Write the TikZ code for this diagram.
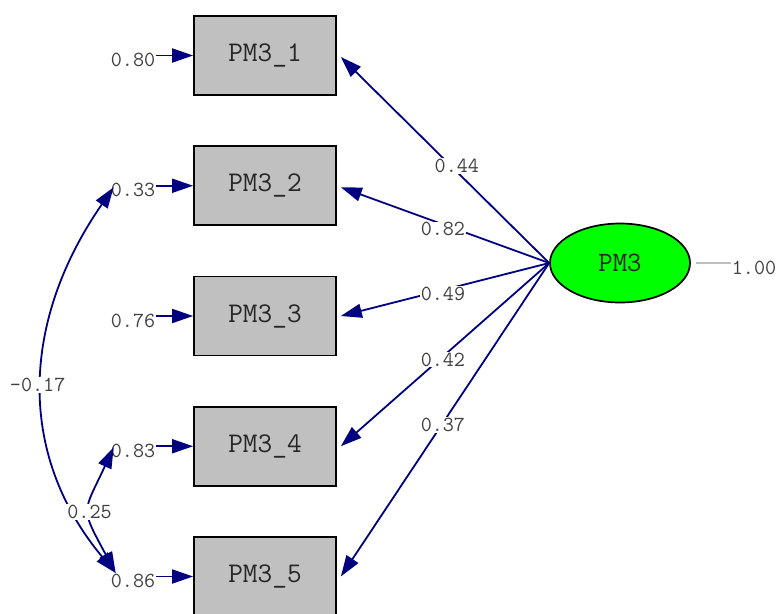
\documentclass[tikz,border=0pt]{standalone}
\usepackage{fontspec}
\usetikzlibrary{arrows.meta,shapes.geometric}
\definecolor{pathblue}{RGB}{0,0,128}
\definecolor{boxgray}{RGB}{192,192,192}
\definecolor{latentgreen}{RGB}{0,255,0}
\tikzset{
observed/.style={draw=black,line width=1.7pt,fill=boxgray,minimum width=142pt,minimum height=79pt,inner sep=0pt,text=black!85,font=\ttfamily\fontsize{28.5}{29}\selectfont},
latent/.style={ellipse,draw=black,line width=1.7pt,fill=latentgreen,minimum width=140pt,minimum height=79pt,inner sep=0pt,text=black!85,font=\ttfamily\fontsize{28}{29}\selectfont},
est/.style={inner sep=1pt,text=black!75,font=\ttfamily\fontsize{21.5}{22}\selectfont},
onpath/.style={est,fill=white},
path/.style={pathblue,line width=1.8pt,-{Triangle[length=21pt,width=14pt]}},
covpath/.style={pathblue,line width=1.8pt,{Triangle[length=21pt,width=14pt]}-{Triangle[length=21pt,width=14pt]}}
}
\providecommand{\Indicator}[4]{
\node[observed] (b#1) at (265,#2) {#3};
\node[est] (e#1) at (133,#2+4.5) {#4};
\draw[path] (e#1.east |- b#1.west) -- (b#1.west);
}

\begin{document}
\begin{tikzpicture}[x=1pt,y=-1pt]
\useasboundingbox (0,0) rectangle (778,613);
\Indicator{1}{55.5}{PM3\_1}{0.80}
\Indicator{2}{185.75}{PM3\_2}{0.33}
\Indicator{3}{316}{PM3\_3}{0.76}
\Indicator{4}{446.25}{PM3\_4}{0.83}
\Indicator{5}{576.5}{PM3\_5}{0.86}
\node[latent] (pm3) at (620,263) {PM3};
\node[est] (v) at (754,268) {1.00};
\draw[black!25,line width=1.2pt] ([xshift=5pt]pm3.east) -- (v.west |- pm3.east);
% loadings
\draw[path] (pm3.west) -- node[onpath,pos=0.443,yshift=6pt] (l1) {0.44} ([xshift=4pt,yshift=-1.5pt]b1.east);
\draw[path] (pm3.west) -- node[onpath,pos=0.51,yshift=-5pt] (l2) {0.82} ([xshift=4pt,yshift=-1.5pt]b2.east);
\draw[path] (pm3.west) -- node[onpath,pos=0.51,yshift=-4pt] (l3) {0.49} ([xshift=4pt]b3.east);
\draw[path] (pm3.west) -- node[onpath,pos=0.51,yshift=-3pt] (l4) {0.42} ([xshift=4pt]b4.east);
\draw[path] (pm3.west) -- node[onpath,pos=0.51,yshift=-2pt] (l5) {0.37} ([xshift=4pt]b5.east);
% covariances
\coordinate (c2) at ([xshift=4pt,yshift=-1.5pt]e2.west |- b2.west);
\coordinate (c4) at ([xshift=4pt,yshift=-1pt]e4.west |- b4.west);
\coordinate (c5) at ([xshift=6pt,yshift=3.5pt]e5.west |- b5.west);
\draw[covpath] (c2) .. controls +(-92,133) and +(-100,-120) .. node[onpath,xshift=-5pt] (k25) {-0.17} (c5);
\draw[covpath] (c4) .. controls +(-31,67) and +(-36,-67) .. node[onpath,pos=0.52] (k45) {0.25} (c5);
\end{tikzpicture}
\end{document}
